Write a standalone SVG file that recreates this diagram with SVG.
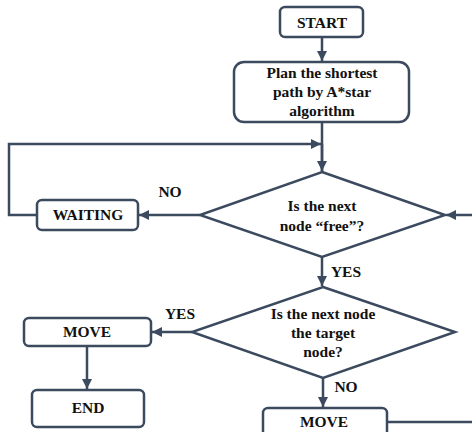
<svg xmlns="http://www.w3.org/2000/svg" width="472" height="432" viewBox="0 0 472 432">
<defs>
<marker id="ah" viewBox="0 0 10 10" refX="10" refY="5" markerWidth="4" markerHeight="4" markerUnits="strokeWidth" orient="auto">
<path d="M0,0 L10,5 L0,10 z" fill="#3b4a5e"/>
</marker>
</defs>
<style>
.box{fill:#fff;stroke:#3b4a5e;stroke-width:2.5}
.dia{fill:#fff;stroke:#3b4a5e;stroke-width:2.5;stroke-linejoin:miter}
.ln{fill:none;stroke:#3b4a5e;stroke-width:2.5}
.ar{fill:none;stroke:#3b4a5e;stroke-width:2.5;marker-end:url(#ah)}
text{font-family:"Liberation Serif","Times New Roman",serif;font-weight:bold;font-size:15.5px;fill:#111;text-anchor:middle}
</style>
<rect width="472" height="432" fill="#fff"/>
<g id="connectors">
<path class="ar" d="M322,37 V61"/>
<path class="ln" d="M322,122 V172"/>
<path class="ar" d="M322,144 V171"/>
<path class="ar" d="M37,215 H9 V144 H321"/>
<path class="ar" d="M200,215 H139"/>
<path class="ar" d="M472,215 H446"/>
<path class="ar" d="M322,257 V286"/>
<path class="ar" d="M192,332 H152"/>
<path class="ar" d="M87,346 V389"/>
<path class="ar" d="M323,378 V407"/>
<path class="ln" d="M387,422 H472"/>
</g>
<g id="start"><rect class="box" x="280" y="7" width="83" height="30" rx="5"/><text x="322" y="28">START</text></g>
<g id="plan"><rect class="box" x="234" y="62" width="175" height="60" rx="10"/>
<text x="322" y="78">Plan the shortest</text><text x="322" y="97">path by A*star</text><text x="322" y="116">algorithm</text></g>
<g id="free"><polygon class="dia" points="322,172 445,215 322,257 200,215"/>
<text x="322" y="211">Is the next</text><text x="322" y="231">node “free”?</text></g>
<g id="waiting"><rect class="box" x="37" y="200" width="101" height="30" rx="5"/><text x="88" y="220">WAITING</text></g>
<g id="target"><polygon class="dia" points="323,287 455,332 323,378 192,332"/>
<text x="323" y="319">Is the next node</text><text x="323" y="338">the target</text><text x="323" y="357">node?</text></g>
<g id="move1"><rect class="box" x="24" y="318" width="127" height="28" rx="5"/><text x="87" y="337">MOVE</text></g>
<g id="end"><rect class="box" x="32" y="390" width="112" height="37" rx="5"/><text x="88" y="413">END</text></g>
<g id="move2"><rect class="box" x="263" y="408" width="124" height="40" rx="5"/><text x="324" y="427">MOVE</text></g>
<g id="labels">
<text x="170" y="197">NO</text>
<text x="346" y="277">YES</text>
<text x="180" y="319">YES</text>
<text x="346" y="392">NO</text>
</g>
</svg>
